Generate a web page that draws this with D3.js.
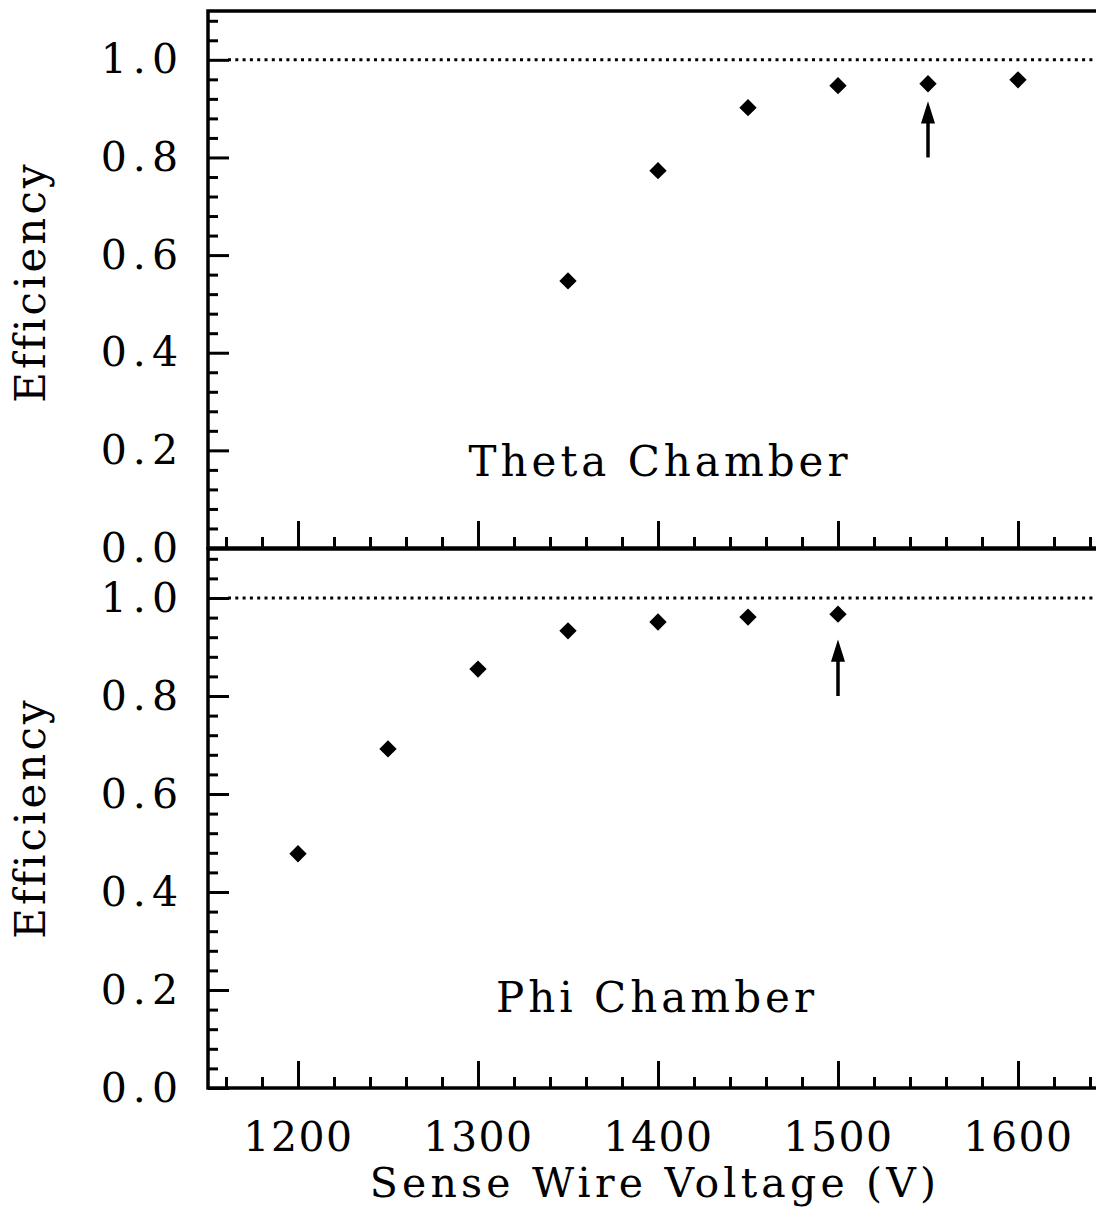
<!DOCTYPE html>
<html><head><meta charset="utf-8">
<script src="https://cdn.jsdelivr.net/npm/d3@7/dist/d3.min.js"></script>
<style>body{margin:0;background:#fff}svg{display:block}</style>
</head><body>
<script>
// ---- data ----
const thetaVoltage = [1350, 1400, 1450, 1500, 1550, 1600];
const thetaEff     = [0.547, 0.773, 0.902, 0.947, 0.951, 0.959];
const phiVoltage   = [1200, 1250, 1300, 1350, 1400, 1450, 1500];
const phiEff       = [0.478, 0.692, 0.855, 0.933, 0.951, 0.961, 0.967];
const arrowVoltage = [1550, 1500];          // theta, phi
const arrowFrom    = [0.80, 0.80];
const arrowTo      = [0.91, 0.91];
const panelLabels  = ["Theta Chamber", "Phi Chamber"];
const xTicks       = [1200, 1300, 1400, 1500, 1600];
const yTicks       = [0, 0.2, 0.4, 0.6, 0.8, 1.0];
const yTitle       = "Efficiency";
const xTitle       = "Sense Wire Voltage (V)";
const refLine      = 1.0;

const W = 1096, H = 1211;
const FONT = "'DejaVu Serif', serif";
const svg = d3.select("body").append("svg").attr("width", W).attr("height", H);
svg.append("rect").attr("width", W).attr("height", H).attr("fill", "#fff");

const x = d3.scaleLinear().domain([1150, 1650]).range([208, 1108]);
const panels = [
  {y: d3.scaleLinear().domain([0, 1.1]).range([548, 11]), vx: thetaVoltage, vy: thetaEff, label: panelLabels[0], bottom: false, lx: 660, ly: 476, ty: 282},
  {y: d3.scaleLinear().domain([0, 1.1]).range([1088, 549]), vx: phiVoltage, vy: phiEff, label: panelLabels[1], bottom: true, lx: 657, ly: 1012, ty: 818}
];
const xMinor = d3.range(1160, 1650, 20).filter(v => v % 100 !== 0);
const yMinor = d3.range(0, 1.1, 0.04).filter(v => Math.abs(v / 0.2 - Math.round(v / 0.2)) > 1e-6);

panels.forEach((p, i) => {
  const g = svg.append("g");
  const [y0, y1] = p.y.range();
  // frame
  g.append("rect").attr("x", x.range()[0]).attr("y", y1).attr("width", x.range()[1] - x.range()[0]).attr("height", y0 - y1)
    .attr("fill", "none").attr("stroke", "#000").attr("stroke-width", 3.5);

  // x axis major
  const xa = g.append("g").attr("transform", `translate(0,${y0})`)
    .call(d3.axisBottom(x).tickValues(xTicks).tickSizeInner(-27).tickSizeOuter(0).tickPadding(34)
      .tickFormat(p.bottom ? d3.format("d") : () => ""));
  const xm = g.append("g").attr("transform", `translate(0,${y0})`)
    .call(d3.axisBottom(x).tickValues(xMinor).tickSizeInner(-11).tickSizeOuter(0).tickFormat(() => ""));
  // y axis
  const ya = g.append("g").attr("transform", `translate(${x.range()[0]},0)`)
    .call(d3.axisLeft(p.y).tickValues(yTicks).tickSizeInner(-21).tickSizeOuter(0).tickPadding(24).tickFormat(d3.format(".1f")));
  const ym = g.append("g").attr("transform", `translate(${x.range()[0]},0)`)
    .call(d3.axisLeft(p.y).tickValues(yMinor).tickSizeInner(-10).tickSizeOuter(0).tickFormat(() => ""));
  [xa, xm, ya, ym].forEach(a => {
    a.select(".domain").remove();
    a.selectAll("line").attr("stroke", "#000").attr("stroke-width", 3);
    a.selectAll("text").attr("font-family", FONT).attr("font-size", 41).attr("fill", "#000");
  });
  ya.selectAll("text").attr("letter-spacing", 6);
  xa.selectAll("text").attr("letter-spacing", 1.5);

  // reference dotted line
  g.append("line").attr("x1", x.range()[0] + 20).attr("x2", x.range()[1])
    .attr("y1", p.y(refLine)).attr("y2", p.y(refLine))
    .attr("stroke", "#000").attr("stroke-width", 3).attr("stroke-dasharray", "3,4.3");

  // points
  const sym = d3.symbol().type(d3.symbolSquare).size(150);
  g.selectAll("path.pt").data(p.vx.map((v, k) => [v, p.vy[k]])).join("path")
    .attr("class", "pt").attr("d", sym)
    .attr("transform", d => `translate(${x(d[0])},${p.y(d[1])}) rotate(45)`)
    .attr("fill", "#000");

  // arrow
  const ax = x(arrowVoltage[i]), ay0 = p.y(arrowFrom[i]), ay1 = p.y(arrowTo[i]);
  g.append("line").attr("x1", ax).attr("x2", ax).attr("y1", ay0).attr("y2", ay1 + 14)
    .attr("stroke", "#000").attr("stroke-width", 3.5);
  g.append("path").attr("d", d3.line()([[ax, ay1], [ax - 6, ay1 + 19], [ax + 6, ay1 + 19]]) + "Z")
    .attr("fill", "#000").attr("stroke", "#000").attr("stroke-width", 1.5).attr("stroke-linejoin", "miter");

  // panel label
  g.append("text").attr("x", p.lx).attr("y", p.ly).attr("text-anchor", "middle")
    .attr("font-family", FONT).attr("font-size", 42).attr("letter-spacing", 4).text(p.label);
  // y title
  g.append("text").attr("transform", `translate(45,${p.ty}) rotate(-90)`).attr("text-anchor", "middle")
    .attr("font-family", FONT).attr("font-size", 42).attr("letter-spacing", 3).text(yTitle);
});

svg.append("text").attr("x", 655).attr("y", 1197).attr("text-anchor", "middle")
  .attr("font-family", FONT).attr("font-size", 41).attr("letter-spacing", 4.2).text(xTitle);
</script>
</body></html>
